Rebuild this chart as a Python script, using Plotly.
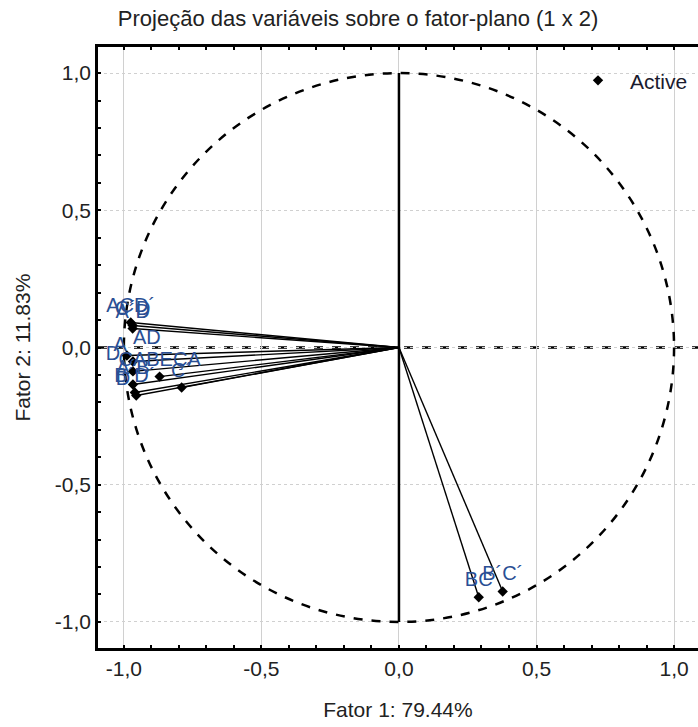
import plotly.graph_objects as go

# Variable projections (Factor 1, Factor 2)
labels = ["ACD´", "C´D", "A´D", "AD", "A", "D´", "CABEÇA", "A´B", "C´", "B´D´", "D", "BC", "B´C´"]
fator1 = [-0.975, -0.968, -0.968, -0.989, -0.967, -0.967, -0.870, -0.967, -0.790, -0.960, -0.955, 0.290, 0.377]
fator2 = [0.091, 0.080, 0.069, -0.029, -0.051, -0.087, -0.106, -0.135, -0.146, -0.164, -0.175, -0.910, -0.889]
text_pos = ["top center", "top center", "top center", "top right", "top left", "top left", "top center",
            "top center", "top center", "top center", "top left", "top center", "top center"]

tick_vals = [-1.0, -0.5, 0.0, 0.5, 1.0]
tick_text = ["-1,0", "-0,5", "0,0", "0,5", "1,0"]

FONT = "Liberation Sans, Arial"

fig = go.Figure()

# lines from origin to each variable
for x, y in zip(fator1, fator2):
    fig.add_trace(go.Scatter(x=[0, x], y=[0, y], mode="lines",
                             line=dict(color="black", width=1.4), showlegend=False, hoverinfo="skip"))

fig.add_trace(go.Scatter(
    x=fator1, y=fator2, mode="markers+text", name="Active",
    text=labels, textposition=text_pos,
    textfont=dict(family=FONT, size=20, color="#2a4f94"),
    marker=dict(symbol="diamond", size=8, color="black"),
))

# unit circle and reference lines
fig.add_shape(type="circle", xref="x", yref="y", x0=-1, y0=-1, x1=1, y1=1,
              line=dict(color="black", width=2.5, dash="dash"), layer="between")
fig.add_shape(type="line", xref="paper", yref="y", x0=0, x1=1, y0=0, y1=0,
              line=dict(color="black", width=2.5, dash="dash"), layer="between")
fig.add_shape(type="line", xref="x", yref="y", x0=0, x1=0, y0=-1, y1=1,
              line=dict(color="black", width=2.5), layer="between")

tick_font = dict(family=FONT, size=21, color="#222222")
title_font = dict(family=FONT, size=21, color="#222222")

# y-axis title as rotated annotation (placed further left than plotly's auto title)
fig.add_annotation(text="Fator 2: 11.83%", textangle=-90, showarrow=False,
                   xref="paper", yref="paper", x=-(98 - 22) / 600, y=0.5,
                   xanchor="center", yanchor="middle", font=title_font)

fig.update_layout(
    width=698, height=727,
    margin=dict(l=98, r=0, t=47, b=79),
    paper_bgcolor="white", plot_bgcolor="white",
    title=dict(text="Projeção das variáveis sobre o fator-plano (1 x 2)",
               font=dict(family=FONT, size=22, color="#222222"),
               x=0.513, xref="container", xanchor="center", y=0.975, yref="container", yanchor="middle"),
    legend=dict(x=0.78, y=0.978, xanchor="left", yanchor="top", bgcolor="rgba(0,0,0,0)",
                itemwidth=54,
                font=dict(family=FONT, size=21, color="#1a1a2e")),
    xaxis=dict(range=[-1.094, 1.087], tickvals=tick_vals, ticktext=tick_text,
               showline=True, linecolor="black", linewidth=2.5, mirror="ticks",
               ticks="inside", ticklen=3, tickcolor="black", tickwidth=2,
               minor=dict(dtick=0.1, ticks="inside", ticklen=3, tickcolor="black", tickwidth=2, showgrid=False),
               showgrid=True, gridcolor="#d0d0d0", gridwidth=1, zeroline=False,
               tickfont=tick_font,
               title=dict(text="Fator 1: 79.44%", font=title_font, standoff=24)),
    yaxis=dict(range=[-1.095, 1.095], tickvals=tick_vals, ticktext=tick_text,
               showline=True, linecolor="black", linewidth=2.5, mirror=False,
               ticks="inside", ticklen=3, tickcolor="black", tickwidth=2,
               minor=dict(dtick=0.1, ticks="inside", ticklen=3, tickcolor="black", tickwidth=2, showgrid=False),
               showgrid=True, gridcolor="#d0d0d0", gridwidth=1, griddash="dot", zeroline=False,
               tickfont=tick_font),
)

fig.write_html("out.html")
